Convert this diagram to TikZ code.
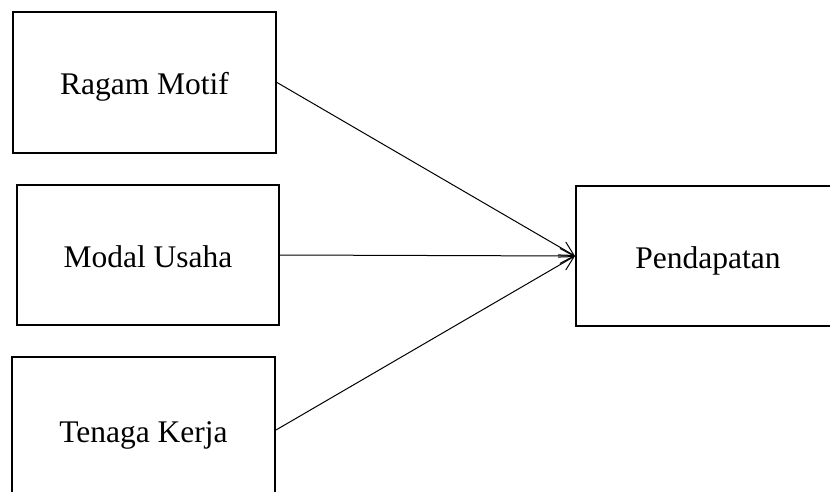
\documentclass[tikz,border=0pt]{standalone}
\usepackage{fontspec}
\setmainfont{Liberation Serif}
\usetikzlibrary{arrows.meta}
\begin{document}
\begin{tikzpicture}[x=1pt,y=-1pt,
  box/.style={draw, line width=2pt, inner sep=0pt, text height=32pt, text depth=7pt, font=\fontsize{31.5}{36}\selectfont},
  link/.style={line width=1pt, -{Straight Barb[length=14pt,width=15pt,line width=1pt]}}]
\useasboundingbox (0,0) rectangle (830,492);
\node[box, minimum width=263pt, minimum height=141pt] (rm) at (144.5,82.5) {Ragam Motif};
\node[box, minimum width=262pt, minimum height=140pt] (mu) at (148,255) {Modal Usaha};
\node[box, minimum width=263pt, minimum height=146pt] (tk) at (143.5,430) {Tenaga Kerja};
\node[box, minimum width=264pt, minimum height=140pt] (pd) at (708,256) {Pendapatan};
\draw[link] (rm.east) -- (pd.west);
\draw[link] (mu.east) -- (pd.west);
\draw[link] (tk.east) -- (pd.west);
\end{tikzpicture}
\end{document}
